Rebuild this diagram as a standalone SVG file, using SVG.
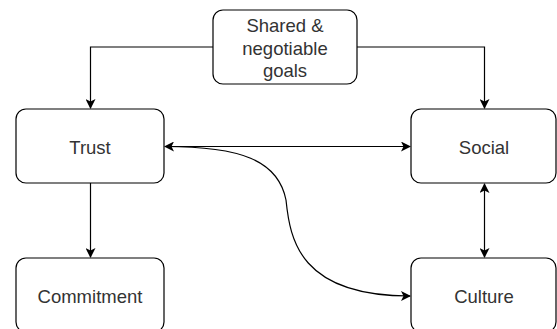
<svg xmlns="http://www.w3.org/2000/svg" width="557" height="329" viewBox="0 0 557 329">
<style>
.box{fill:#fff;stroke:#000;stroke-width:1.2}
.lbl{font-family:"Liberation Sans",Arial,sans-serif;font-size:18.5px;fill:#333;text-anchor:middle}
.edge{fill:none;stroke:#000;stroke-width:1.2}
</style>
<defs>
<marker id="arr" viewBox="0 0 10 10" refX="9" refY="5" markerWidth="10" markerHeight="10" markerUnits="userSpaceOnUse" orient="auto-start-reverse">
<path d="M0,0 L10,5 L0,10 L2.5,5 Z" fill="#000"/>
</marker>
</defs>
<rect width="557" height="329" fill="#fff"/>
<g id="connectors">
<path class="edge" d="M213,47 H90.5 V108" marker-end="url(#arr)"/>
<path class="edge" d="M357,47 H484.5 V108" marker-end="url(#arr)"/>
<path class="edge" d="M165,146.5 H410" marker-start="url(#arr)" marker-end="url(#arr)"/>
<path class="edge" d="M484.5,184 V257" marker-start="url(#arr)" marker-end="url(#arr)"/>
<path class="edge" d="M90.5,183 V257" marker-end="url(#arr)"/>
<path class="edge" d="M165,146.5 C240,146.5 278,160 286,200 C290,240 300,296 410,296" marker-end="url(#arr)"/>
</g>
<g id="shared">
<rect class="box" x="213" y="10" width="144" height="74" rx="10"/>
<text class="lbl" x="285" y="32">Shared &amp;</text>
<text class="lbl" x="285" y="55">negotiable</text>
<text class="lbl" x="285" y="77">goals</text>
</g>
<g id="trust">
<rect class="box" x="16" y="109" width="148" height="74" rx="10"/>
<text class="lbl" x="90" y="154">Trust</text>
</g>
<g id="social">
<rect class="box" x="411" y="109" width="145" height="74" rx="10"/>
<text class="lbl" x="484" y="154">Social</text>
</g>
<g id="commitment">
<rect class="box" x="16" y="258" width="148" height="74" rx="10"/>
<text class="lbl" x="90" y="303">Commitment</text>
</g>
<g id="culture">
<rect class="box" x="411" y="258" width="145" height="74" rx="10"/>
<text class="lbl" x="484" y="303">Culture</text>
</g>
</svg>
